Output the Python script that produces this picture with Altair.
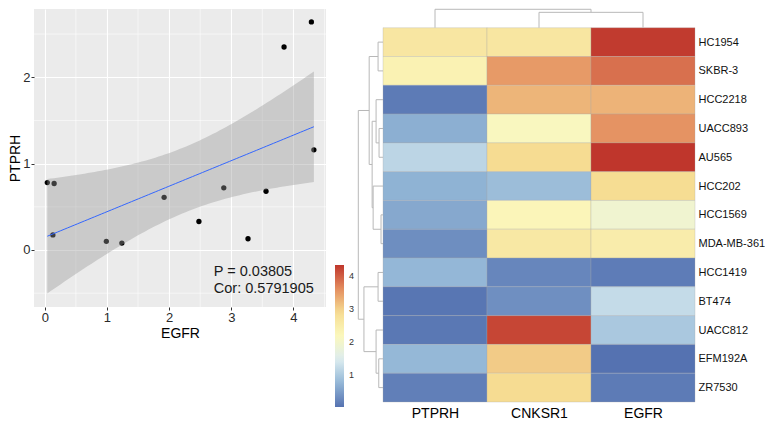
import altair as alt
import numpy as np
import pandas as pd

# ---------------- data ----------------
cell_lines = ["HC1954", "SKBR-3", "HCC2218", "UACC893", "AU565", "HCC202", "HCC1569",
              "MDA-MB-361", "HCC1419", "BT474", "UACC812", "EFM192A", "ZR7530"]
genes = ["PTPRH", "CNKSR1", "EGFR"]
ptprh = [2.64, 2.35, 0.13, 0.68, 1.16, 0.72, 0.61, 0.33, 0.77, 0.08, 0.10, 0.78, 0.175]
cnksr1 = [2.65, 3.50, 3.25, 2.15, 2.90, 0.85, 2.25, 2.60, 0.25, 0.35, 4.20, 3.05, 2.90]
egfr = [4.29, 3.85, 3.27, 3.56, 4.33, 2.88, 1.92, 2.48, 0.15, 1.24, 0.99, 0.04, 0.13]

p_text = "P = 0.03805"
cor_text = "Cor: 0.5791905"

x_ticks = [0, 1, 2, 3, 4]
y_ticks = [0, 1, 2]
x_minor = [0.5, 1.5, 2.5, 3.5, 4.5]
y_minor = [-0.5, 0.5, 1.5, 2.5]

# dendrogram merges (child, child, height)
row_merges = [
    ("HC1954", "SKBR-3", 5.0),        # m0
    ("UACC893", "AU565", 4.0),        # m1
    ("HCC2218", "m1", 7.0),           # m2
    ("HCC1569", "MDA-MB-361", 2.0),   # m3
    ("HCC202", "m3", 10.0),           # m4
    ("m2", "m4", 11.0),               # m5
    ("m0", "m5", 14.0),               # m6
    ("HCC1419", "BT474", 5.0),        # m7
    ("EFM192A", "ZR7530", 4.3),       # m8
    ("UACC812", "m8", 7.0),           # m9
    ("m7", "m9", 19.3),               # m10
    ("m6", "m10", 25.0),              # m11
]
col_merges = [
    ("CNKSR1", "EGFR", 21.7),         # m0
    ("PTPRH", "m0", 26.0),            # m1
]

heat_colors = ["#5572b1", "#92b6d6", "#dcecf0", "#fbf8bd", "#f6dc92", "#e48d5f", "#bf362c"]
legend_values = [1, 2, 3, 4]

# ---------------- scatter ----------------
sc_df = pd.DataFrame({"EGFR": egfr, "PTPRH": ptprh})
xv = np.array(egfr)
yv = np.array(ptprh)
n = len(xv)
xb = xv.mean()
sxx = ((xv - xb) ** 2).sum()
slope = ((xv - xb) * (yv - yv.mean())).sum() / sxx
icpt = yv.mean() - slope * xb
resid = yv - (icpt + slope * xv)
s = np.sqrt((resid ** 2).sum() / (n - 2))
zq = 1.959964
xs = np.linspace(xv.min(), xv.max(), 80)
fit = icpt + slope * xs
se = s * np.sqrt(1.0 / n + (xs - xb) ** 2 / sxx)
fit_df = pd.DataFrame({"EGFR": xs, "fit": fit, "lo": fit - zq * se, "hi": fit + zq * se})

xsc = alt.Scale(domain=[-0.174, 4.525], nice=False, zero=False)
ysc = alt.Scale(domain=[-0.66, 2.79], nice=False, zero=False)

x_axis = alt.Axis(values=x_ticks, grid=True, gridColor="white", gridWidth=1.1, domain=False,
                  tickColor="#333333", tickSize=3, labelFontSize=13, labelColor="#2a2a2a",
                  labelPadding=1, titleFontSize=14, titleColor="black", titleFontWeight="normal",
                  titlePadding=2, labelFlush=False)
y_axis = alt.Axis(values=y_ticks, grid=True, gridColor="white", gridWidth=1.1, domain=False,
                  tickColor="#333333", tickSize=3, labelFontSize=13, labelColor="#2a2a2a",
                  labelPadding=1, titleFontSize=14, titleColor="black", titleFontWeight="normal",
                  titlePadding=0, labelFlush=False)


def X(field):
    return alt.X(field, scale=xsc, axis=x_axis, title="EGFR")


def Y(field):
    return alt.Y(field, scale=ysc, axis=y_axis, title="PTPRH")


minor_x = alt.Chart(pd.DataFrame({"v": x_minor})).mark_rule(color="white", strokeWidth=0.55).encode(
    x=X("v:Q"))
minor_y = alt.Chart(pd.DataFrame({"v": y_minor})).mark_rule(color="white", strokeWidth=0.55).encode(
    y=Y("v:Q"))

points = alt.Chart(sc_df).mark_circle(size=28, color="black", opacity=1).encode(
    x=X("EGFR:Q"), y=Y("PTPRH:Q"))

band = alt.Chart(fit_df).mark_area(color="#999999", opacity=0.4).encode(
    x=X("EGFR:Q"), y=Y("lo:Q"), y2="hi:Q")

line = alt.Chart(fit_df).mark_line(color="#3366FF", strokeWidth=1).encode(
    x=X("EGFR:Q"), y=Y("fit:Q"))

ann_df = pd.DataFrame({"x": [2.72, 2.72], "y": [-0.26, -0.455], "t": [p_text, cor_text]})
ann = alt.Chart(ann_df).mark_text(align="left", baseline="middle", fontSize=14.5, color="#1a1a1a").encode(
    x=X("x:Q"), y=Y("y:Q"), text="t:N")

scatter = alt.layer(minor_x, minor_y, points, band, line, ann).properties(
    width=292, height=298, view=alt.ViewBackground(fill="#EBEBEB", stroke=None))

# ---------------- heatmap ----------------
vals = {"PTPRH": ptprh, "CNKSR1": cnksr1, "EGFR": egfr}
cells = []
for j, g in enumerate(genes):
    for i, r in enumerate(cell_lines):
        cells.append({"c0": j, "c1": j + 1, "r0": i, "r1": i + 1, "gene": g, "line": r, "value": vals[g][i]})
cells = pd.DataFrame(cells)
vmin = float(cells["value"].min())
vmax = float(cells["value"].max())
cdom = list(np.linspace(vmin, vmax, len(heat_colors)))


def dendro(merges, leaves):
    pos = {k: i + 0.5 for i, k in enumerate(leaves)}
    hgt = {k: 0.0 for k in leaves}
    segs = []
    for m, (a, b, h) in enumerate(merges):
        for c in (a, b):
            segs.append({"p": pos[c], "p2": pos[c], "h": hgt[c], "h2": h})
        segs.append({"p": pos[a], "p2": pos[b], "h": h, "h2": h})
        pos["m%d" % m] = (pos[a] + pos[b]) / 2
        hgt["m%d" % m] = h
    return pd.DataFrame(segs)


ref_col_px = 105.3
rd = dendro(row_merges, cell_lines)
rd["x"] = -rd["h"] / ref_col_px
rd["x2"] = -rd["h2"] / ref_col_px
rd["y"] = rd["p"]
rd["y2"] = rd["p2"]

ytop = 0.65
cd = dendro(col_merges, genes)
cd["x"] = cd["p"]
cd["x2"] = cd["p2"]
cd["y"] = -cd["h"] / 26.0 * (ytop - 0.01)
cd["y2"] = -cd["h2"] / 26.0 * (ytop - 0.01)

hx = alt.Scale(domain=[-0.2404, 3], nice=False, zero=False)
hy = alt.Scale(domain=[-ytop, 13], nice=False, zero=False, reverse=True)

gene_expr = "[" + ",".join("'%s'" % g for g in genes) + "][floor(datum.value)]"
line_expr = "[" + ",".join("'%s'" % r for r in cell_lines) + "][floor(datum.value)]"

hx_axis = alt.Axis(values=[j + 0.5 for j in range(len(genes))], labelExpr=gene_expr,
                   domain=False, ticks=False, grid=False, labelFontSize=14,
                   labelColor="black", labelPadding=4, labelFlush=False)
hy_axis = alt.Axis(orient="right", values=[i + 0.5 for i in range(len(cell_lines))],
                   labelExpr=line_expr, domain=False, ticks=False, grid=False,
                   labelFontSize=11, labelColor="#111111", labelPadding=3, labelFlush=False)


def HX(field):
    return alt.X(field, scale=hx, axis=hx_axis, title=None)


def HY(field):
    return alt.Y(field, scale=hy, axis=hy_axis, title=None)


rects = alt.Chart(cells).mark_rect(stroke="#aaaaaa", strokeWidth=0.5, strokeOpacity=0.6).encode(
    x=HX("c0:Q"), x2="c1:Q",
    y=HY("r0:Q"), y2="r1:Q",
    color=alt.Color("value:Q", scale=alt.Scale(domain=cdom, range=heat_colors, interpolate="rgb"),
                    legend=alt.Legend(orient="none", legendX=-23, legendY=256, direction="vertical",
                                      gradientLength=142, gradientThickness=9, title=None,
                                      values=legend_values, labelFontSize=9, labelColor="#333333",
                                      labelOffset=5, gradientStrokeWidth=0)),
)

row_dendro = alt.Chart(rd).mark_rule(color="#b8b8b8", strokeWidth=1).encode(
    x=HX("x:Q"), x2="x2:Q", y=HY("y:Q"), y2="y2:Q")
col_dendro = alt.Chart(cd).mark_rule(color="#b8b8b8", strokeWidth=1).encode(
    x=HX("x:Q"), x2="x2:Q", y=HY("y:Q"), y2="y2:Q")

heat = alt.layer(rects, row_dendro, col_dendro).properties(width=337, height=393)

chart = alt.hconcat(scatter, heat, spacing=8).resolve_scale(color="independent").resolve_legend(
    color="independent"
).properties(
    padding={"left": 0, "top": 0, "right": 0, "bottom": 0}
).configure(font="Liberation Sans").configure_view(stroke=None)

chart.save("out.html", embed_options={"renderer": "svg", "actions": False})
